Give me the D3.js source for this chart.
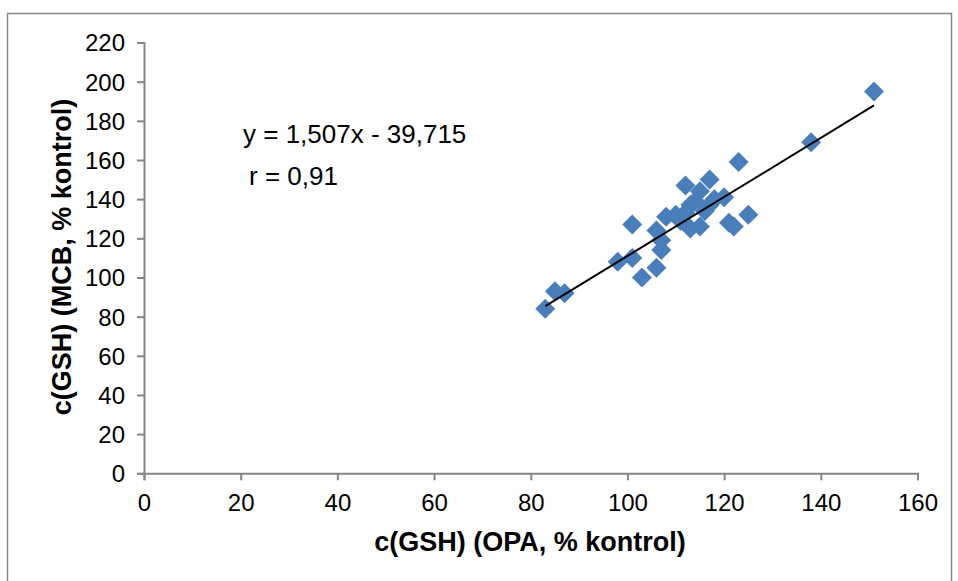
<!DOCTYPE html>
<html>
<head>
<meta charset="utf-8">
<script src="https://cdn.jsdelivr.net/npm/d3@7"></script>
<style>
  body { margin: 0; background: #fff; }
  text { font-family: "Liberation Sans", Arial, sans-serif; fill: #000; }
</style>
</head>
<body>
<svg id="chart" width="958" height="581"></svg>
<script>
// Messwerte: c(GSH) OPA (x) gegen MCB (y), jeweils % kontrol
var opaValues = [83, 85, 87, 98, 101, 101, 103, 106, 106, 107, 107, 108, 110, 112, 111, 113,
                 113, 114, 115, 115, 117, 116, 117, 120, 121, 122, 125, 123, 138, 151, 112, 118];
var mcbValues = [84, 93, 92, 108, 110, 127, 100, 105, 124, 114, 119, 131, 132, 147, 129, 137,
                 125, 139, 144, 126, 150, 134, 137, 141, 128, 126, 132, 159, 169, 195, 133, 140];

var xTicks = [0, 20, 40, 60, 80, 100, 120, 140, 160];
var yTicks = [0, 20, 40, 60, 80, 100, 120, 140, 160, 180, 200, 220];

// Regressionsgerade laut Beschriftung
var slope = 1.507;
var intercept = -39.715;
var eqLabel = "y = 1,507x - 39,715";
var rLabel = "r = 0,91";

var xTitle = "c(GSH) (OPA, % kontrol)";
var yTitle = "c(GSH) (MCB, % kontrol)";

var svg = d3.select("#chart");
var axisColor = "#868686";

// Rahmen
svg.append("rect")
    .attr("x", 7.5).attr("y", 13.5)
    .attr("width", 944).attr("height", 580)
    .attr("fill", "none").attr("stroke", axisColor).attr("stroke-width", 1.5);

var x = d3.scaleLinear().domain([0, 160]).range([144, 917.5]);
var y = d3.scaleLinear().domain([0, 220]).range([473.3, 42.5]);

// Achsen
var xAxis = svg.append("g")
    .attr("transform", "translate(0," + y(0) + ")")
    .call(d3.axisBottom(x).tickValues(xTicks).tickSize(7).tickPadding(14));
var yAxis = svg.append("g")
    .attr("transform", "translate(" + x(0) + ",0)")
    .call(d3.axisLeft(y).tickValues(yTicks).tickSize(7).tickPadding(12));

[xAxis, yAxis].forEach(function (ax) {
    ax.select(".domain").attr("stroke", axisColor).attr("stroke-width", 2);
    ax.selectAll(".tick line").attr("stroke", axisColor).attr("stroke-width", 2);
    ax.selectAll(".tick text")
        .style("font-family", "'Liberation Sans', Arial, sans-serif")
        .style("font-size", "24px").attr("fill", "#000");
});
yAxis.selectAll(".tick text").attr("dy", "0.35em");

// Punkte (Rauten)
var diamond = d3.symbol().type(d3.symbolSquare).size(200);
svg.append("g").selectAll("path")
    .data(opaValues)
    .enter().append("path")
    .attr("d", diamond)
    .attr("transform", function (d, i) {
        return "translate(" + x(d) + "," + y(mcbValues[i]) + ") rotate(45)";
    })
    .attr("fill", "#4A7EBB");

// Trendlinie
var xMin = d3.min(opaValues), xMax = d3.max(opaValues);
svg.append("line")
    .attr("x1", x(xMin)).attr("y1", y(slope * xMin + intercept))
    .attr("x2", x(xMax)).attr("y2", y(slope * xMax + intercept))
    .attr("stroke", "#000").attr("stroke-width", 2);

// Gleichung
svg.append("text").attr("x", 243).attr("y", 143)
    .style("font-size", "26px").text(eqLabel);
svg.append("text").attr("x", 249).attr("y", 185)
    .style("font-size", "26px").text(rLabel);

// Achsentitel
svg.append("text")
    .attr("x", 530).attr("y", 551)
    .attr("text-anchor", "middle")
    .style("font-size", "27px").style("font-weight", "bold")
    .text(xTitle);
svg.append("text")
    .attr("transform", "translate(71,257) rotate(-90)")
    .attr("text-anchor", "middle")
    .style("font-size", "27px").style("font-weight", "bold")
    .text(yTitle);
</script>
</body>
</html>
